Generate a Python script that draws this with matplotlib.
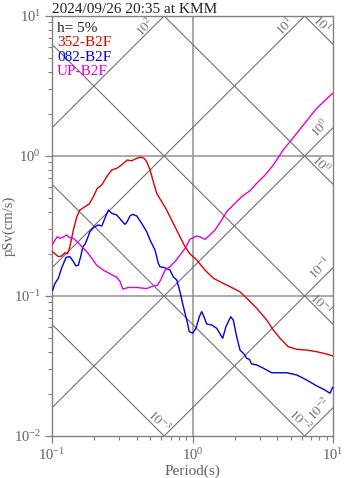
import numpy as np
import matplotlib
matplotlib.use("Agg")
import matplotlib.pyplot as plt

# ── data (period s, pSv cm/s) ────────────────────────────────────────────────
red_T = [0.101, 0.111, 0.117, 0.124, 0.129, 0.134, 0.142, 0.150, 0.158, 0.172,
         0.184, 0.197, 0.210, 0.226, 0.245, 0.266, 0.289, 0.313, 0.343, 0.369,
         0.401, 0.428, 0.452, 0.472, 0.499, 0.526, 0.556, 0.604, 0.655, 0.730,
         0.815, 0.885, 0.959, 1.071, 1.228, 1.406, 1.656, 1.901, 2.178, 2.430,
         2.864, 3.374, 3.758, 4.195, 4.808, 5.521, 6.501, 7.66, 9.02, 9.95]
red_S = [0.207, 0.191, 0.193, 0.204, 0.200, 0.225, 0.296, 0.368, 0.411, 0.435,
         0.454, 0.512, 0.588, 0.621, 0.711, 0.794, 0.817, 0.863, 0.936, 0.925,
         0.963, 0.980, 0.963, 0.910, 0.794, 0.655, 0.542, 0.472, 0.411, 0.330,
         0.265, 0.225, 0.200, 0.181, 0.153, 0.134, 0.123, 0.115, 0.107, 0.0964,
         0.0817, 0.0674, 0.0572, 0.0499, 0.0434, 0.0416, 0.0411, 0.0400, 0.0385, 0.0373]

blue_T = [0.101, 0.105, 0.111, 0.117, 0.126, 0.134, 0.142, 0.148, 0.154, 0.160,
          0.166, 0.172, 0.177, 0.186, 0.199, 0.214, 0.226, 0.238, 0.252, 0.266,
          0.289, 0.313, 0.331, 0.343, 0.359, 0.375, 0.401, 0.435, 0.472, 0.499,
          0.541, 0.571, 0.587, 0.637, 0.692, 0.730, 0.773, 0.815, 0.861, 0.910,
          0.949, 1.002, 1.059, 1.118, 1.162, 1.207, 1.262, 1.370, 1.487, 1.640,
          1.730, 1.870, 1.951, 2.063, 2.178, 2.327, 2.430, 2.537, 2.637, 2.864,
          3.190, 3.662, 4.680, 5.521, 6.501, 7.66, 8.77, 9.52, 9.95]
blue_S = [0.110, 0.123, 0.134, 0.158, 0.189, 0.191, 0.176, 0.164, 0.166, 0.191,
          0.225, 0.235, 0.251, 0.288, 0.310, 0.322, 0.316, 0.359, 0.411, 0.390,
          0.379, 0.345, 0.325, 0.340, 0.373, 0.383, 0.373, 0.330, 0.288, 0.251,
          0.213, 0.171, 0.162, 0.159, 0.153, 0.137, 0.130, 0.107, 0.0839, 0.0674,
          0.0556, 0.0542, 0.0588, 0.0711, 0.0773, 0.0711, 0.0631, 0.0621, 0.0588, 0.0499,
          0.0604, 0.0711, 0.0674, 0.0512, 0.0411, 0.0385, 0.0359, 0.0353, 0.0327, 0.0322,
          0.0305, 0.0283, 0.0283, 0.0273, 0.0251, 0.0228, 0.0213, 0.0202, 0.0223]

mag_T = [0.101, 0.105, 0.109, 0.114, 0.119, 0.124, 0.127, 0.133, 0.142, 0.151,
         0.163, 0.177, 0.192, 0.208, 0.232, 0.259, 0.289, 0.305, 0.319, 0.349,
         0.401, 0.472, 0.526, 0.561, 0.594, 0.637, 0.692, 0.750, 0.815, 0.885,
         0.959, 1.071, 1.129, 1.228, 1.333, 1.445, 1.614, 1.751, 2.005, 2.239,
         2.566, 2.864, 3.283, 3.758, 4.424, 4.940, 6.148, 7.66, 9.95]
mag_S = [0.235, 0.251, 0.265, 0.258, 0.262, 0.268, 0.273, 0.262, 0.258, 0.244,
         0.225, 0.207, 0.186, 0.166, 0.153, 0.144, 0.136, 0.127, 0.112, 0.115,
         0.115, 0.113, 0.118, 0.119, 0.130, 0.153, 0.162, 0.176, 0.196, 0.219,
         0.254, 0.268, 0.265, 0.254, 0.273, 0.296, 0.349, 0.400, 0.459, 0.512,
         0.565, 0.638, 0.731, 0.863, 1.104, 1.264, 1.664, 2.193, 2.806]

series_names = ["352-B2F", "082-B2F", "UP-B2F"]
series_colors = ["#e00000", "#0000e0", "#e000e0"]

acc_levels = [1e2, 1e1, 1e0, 1e-1, 1e-2]      # cm/s^2, rising lines
disp_levels = [1e1, 1e0, 1e-1, 1e-2, 1e-3]    # cm, falling lines
acc_exp = [2, 1, 0, -1, -2]
disp_exp = [1, 0, -1, -2, -3]

title = "2024/09/26 20:35 at KMM"
damping = "h= 5%"

# ── style ────────────────────────────────────────────────────────────────────
plt.rcParams["font.family"] = "serif"
plt.rcParams["font.serif"] = ["Liberation Serif", "DejaVu Serif"]
plt.rcParams["mathtext.fontset"] = "stix"

GRAY_TXT = "#606060"
GRAY_AX = "#808080"
GRAY_DIAG = "#707070"

T_MIN, T_MAX = 0.1, 10.0
S_MIN, S_MAX = 0.01, 10.0

fig = plt.figure(figsize=(3.47, 4.78), dpi=100)
ax = fig.add_axes([52 / 347, 1 - 436 / 478, 281 / 347, 420 / 478])
ax.set_xscale("log")
ax.set_yscale("log")
ax.set_xlim(T_MIN, T_MAX)
ax.set_ylim(S_MIN, S_MAX)

# grid on decades
ax.axvline(1.0, color="#999999", lw=1.2, zorder=1)
for s in [1.0, 0.1]:
    ax.axhline(s, color="#999999", lw=1.2, zorder=1)

# tripartite lines
T = np.logspace(-1, 1, 200)


def exit_point_rising(sa):
    # pSv = Sa*T/(2pi); leaves the box at top or right
    t_top = 2 * np.pi * S_MAX / sa
    if t_top <= T_MAX:
        return (t_top, S_MAX), "top"
    return (T_MAX, sa * T_MAX / (2 * np.pi)), "right"


def exit_point_falling(sd):
    # pSv = 2pi*Sd/T; leaves the box at right or bottom
    s_right = 2 * np.pi * sd / T_MAX
    if s_right >= S_MIN:
        return (T_MAX, s_right), "right"
    return (2 * np.pi * sd / S_MIN, S_MIN), "bottom"


rise_off = {"top": (-13.7, -7.9), "right": (-9.4, -0.7)}
fall_off = {"right": (-8.6, 14.4), "bottom": (-3.6, 10.8)}

for sa, e in zip(acc_levels, acc_exp):
    ax.plot(T, sa * T / (2 * np.pi), color=GRAY_DIAG, lw=0.8, zorder=1)
    xy, edge = exit_point_rising(sa)
    ax.annotate(f"$10^{{{e}}}$", xy=xy, xytext=rise_off[edge],
                textcoords="offset points", rotation=45, ha="center",
                va="center", fontsize=9.5, color="#707070",
                annotation_clip=False)

for sd, e in zip(disp_levels, disp_exp):
    ax.plot(T, 2 * np.pi * sd / T, color=GRAY_DIAG, lw=0.8, zorder=1)
    xy, edge = exit_point_falling(sd)
    ax.annotate(f"$10^{{{e}}}$", xy=xy, xytext=fall_off[edge],
                textcoords="offset points", rotation=-45, ha="center",
                va="center", fontsize=9.5, color="#707070",
                annotation_clip=False)

# spectra
for (tt, ss), c in zip([(red_T, red_S), (blue_T, blue_S), (mag_T, mag_S)],
                       series_colors):
    ax.plot(tt, ss, color=c, lw=1.0, zorder=3)

# legend-like text block
y0, dy = 0.986, 0.0345
ax.text(0.018, y0, damping, transform=ax.transAxes, fontsize=11,
        color="#202020", va="top", ha="left")
for i, (name, c) in enumerate(zip(series_names, series_colors)):
    ax.text(0.018, y0 - dy * (i + 1), name, transform=ax.transAxes,
            fontsize=11, color=c, va="top", ha="left")

ax.text(0.0, 1.008, title, transform=ax.transAxes, fontsize=11,
        color="#202020", va="baseline", ha="left")

# axes cosmetics
for sp in ax.spines.values():
    sp.set_color(GRAY_AX)
    sp.set_linewidth(1.0)
ax.tick_params(which="major", direction="out", length=5, width=0.9,
               color=GRAY_AX, labelcolor=GRAY_TXT, labelsize=10.5, pad=3)
ax.tick_params(which="minor", direction="out", length=3, width=0.8,
               color=GRAY_AX)
ax.set_xlabel("Period(s)", fontsize=11, color=GRAY_TXT, labelpad=1)
ax.set_ylabel("pSv(cm/s)", fontsize=10.5, color=GRAY_TXT, va="center")
ax.yaxis.set_label_coords(-0.152, 0.5)

fig.savefig("out.png", dpi=100)
